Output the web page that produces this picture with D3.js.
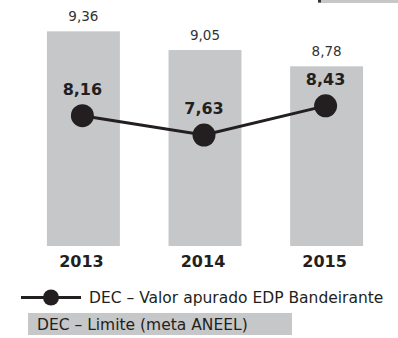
<!DOCTYPE html>
<html>
<head>
<meta charset="utf-8">
<script src="https://cdn.jsdelivr.net/npm/d3@7"></script>
<style>
  html, body { margin: 0; padding: 0; background: #fff; }
  svg { display: block; font-family: "DejaVu Sans", Verdana, sans-serif; }
</style>
</head>
<body>
<svg id="chart" width="398" height="338"></svg>
<script>
// DEC indicators by year
const years = ["2013", "2014", "2015"];
const limitValues = [9.36, 9.05, 8.78];    // DEC – Limite (meta ANEEL)
const measuredValues = [8.16, 7.63, 8.43]; // DEC – Valor apurado EDP Bandeirante
const legendLabels = ["DEC – Valor apurado EDP Bandeirante", "DEC – Limite (meta ANEEL)"];

const fmt = v => d3.format(".2f")(v).replace(".", ",");

const svg = d3.select("#chart");
const barColor = "#c6c7c9";
const ink = "#231f20";

// partial frame at the top right edge
svg.append("rect").attr("x", 318).attr("y", 0).attr("width", 80).attr("height", 3).attr("fill", barColor);
svg.append("rect").attr("x", 318).attr("y", 0).attr("width", 3).attr("height", 2.5).attr("fill", "#333");

const x = d3.scaleBand().domain(years).range([22.6, 387.4]).paddingInner(0.4).paddingOuter(0.2);
const yBar = d3.scaleLinear().domain([5.8, 9.5]).range([246, 22.9]);
const yLine = d3.scaleLinear().domain([7.5, 8.5]).range([139.8, 103.3]);

// limit bars
svg.append("g").selectAll("rect").data(years).join("rect")
  .attr("x", d => x(d))
  .attr("y", (d, i) => yBar(limitValues[i]))
  .attr("width", x.bandwidth())
  .attr("height", (d, i) => yBar(5.8) - yBar(limitValues[i]))
  .attr("fill", barColor);

svg.append("g").selectAll("text").data(years).join("text")
  .attr("x", d => x(d) + x.bandwidth() / 2)
  .attr("y", (d, i) => yBar(limitValues[i]) - 10)
  .attr("text-anchor", "middle")
  .attr("font-size", 13.5)
  .attr("fill", "#333")
  .text((d, i) => fmt(limitValues[i]));

// year axis
const axis = svg.append("g").attr("transform", "translate(-2,246)")
  .call(d3.axisBottom(x).tickSize(0).tickPadding(0));
axis.select(".domain").remove();
axis.selectAll("text")
  .attr("dy", 0).attr("y", 21)
  .attr("font-family", "DejaVu Sans, Verdana, sans-serif")
  .attr("font-size", 16).attr("font-weight", "bold").attr("fill", ink);

// measured line
const cx = d => x(d) + x.bandwidth() / 2 - 1;
const line = d3.line().x(d => cx(d)).y((d, i) => yLine(measuredValues[i]));
svg.append("path").datum(years)
  .attr("d", line)
  .attr("fill", "none").attr("stroke", ink).attr("stroke-width", 3);

svg.append("g").selectAll("circle").data(years).join("circle")
  .attr("cx", cx)
  .attr("cy", (d, i) => yLine(measuredValues[i]))
  .attr("r", 11.5)
  .attr("fill", ink);

svg.append("g").selectAll("text").data(years).join("text")
  .attr("x", cx)
  .attr("y", (d, i) => yLine(measuredValues[i]) - 21)
  .attr("text-anchor", "middle")
  .attr("font-size", 16).attr("font-weight", "bold")
  .attr("fill", ink)
  .text((d, i) => fmt(measuredValues[i]));

// legend
const lg = svg.append("g");
lg.append("line").attr("x1", 21).attr("x2", 81).attr("y1", 297.5).attr("y2", 297.5)
  .attr("stroke", ink).attr("stroke-width", 3);
lg.append("circle").attr("cx", 51).attr("cy", 297.5).attr("r", 8).attr("fill", ink);
lg.append("text").attr("x", 89).attr("y", 303).attr("font-size", 15.5).attr("fill", ink)
  .text(legendLabels[0]);
lg.append("rect").attr("x", 28).attr("y", 313).attr("width", 264).attr("height", 22).attr("fill", barColor);
lg.append("text").attr("x", 37).attr("y", 329.5).attr("font-size", 15.5).attr("fill", ink)
  .text(legendLabels[1]);
</script>
</body>
</html>
